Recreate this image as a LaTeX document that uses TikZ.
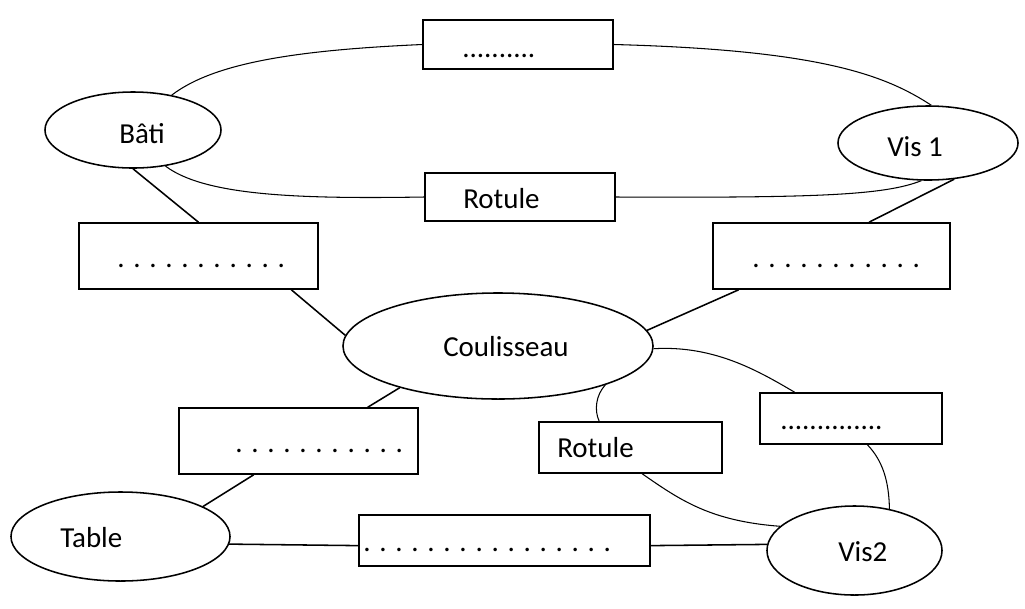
\documentclass[tikz,border=0pt]{standalone}
\usepackage{fontspec}
\setmainfont{Carlito}
\usetikzlibrary{shapes.geometric}
\tikzset{
    piece/.style={draw, ellipse, line width=1.1pt, inner sep=0pt},
    liaison/.style={draw, rectangle, line width=1.1pt, inner sep=0pt},
    txt/.style={anchor=base west, inner sep=0pt, font=\fontsize{20.6pt}{24pt}\selectfont},
    lien/.style={line width=1.1pt},
    courbe/.style={line width=0.75pt}
}

\begin{document}
\begin{tikzpicture}[x=0.025cm, y=-0.025cm]
    \useasboundingbox (0, 0) rectangle (1025, 608);
    % pieces
    \node[piece, minimum width=4.4cm, minimum height=1.9cm](bati) at (133, 130){};
    \node[piece, minimum width=4.5cm, minimum height=1.85cm](vis1) at (928, 143){};
    \node[piece, minimum width=7.75cm, minimum height=2.65cm](coul) at (498, 346){};
    \node[piece, minimum width=5.475cm, minimum height=2.225cm](table) at (120.5, 536.5){};
    \node[piece, minimum width=4.375cm, minimum height=2.225cm](vis2) at (854.5, 550.5){};
    % liaisons
    \node[liaison, minimum width=4.75cm, minimum height=1.225cm](haut) at (518, 44.5){};
    \node[liaison, minimum width=4.75cm, minimum height=1.2cm](rot1) at (520, 197){};
    \node[liaison, minimum width=5.975cm, minimum height=1.65cm](gauche) at (198.5, 256){};
    \node[liaison, minimum width=5.925cm, minimum height=1.65cm](droite) at (831.5, 256){};
    \node[liaison, minimum width=5.975cm, minimum height=1.65cm](bas1) at (298.5, 441){};
    \node[liaison, minimum width=7.275cm, minimum height=1.275cm](bas2) at (504.5, 540.5){};
    \node[liaison, minimum width=4.575cm, minimum height=1.275cm](rot2) at (630.5, 447.5){};
    \node[liaison, minimum width=4.55cm, minimum height=1.275cm](petit) at (851, 418.5){};
    % textes
    \node[txt](bati-t) at (119, 143){Bâti};
    \node[txt](vis1-t) at (887, 156){Vis 1};
    \node[txt](coul-t) at (443, 356){Coulisseau};
    \node[txt](table-t) at (60, 547){Table};
    \node[txt](vis2-t) at (838, 561){Vis2};
    \node[txt](haut-t) at (462, 57){..........};
    \node[txt](rot1-t) at (463, 208){Rotule};
    \node[txt](gauche-t) at (117, 267){. . . . . . . . . . .};
    \node[txt](droite-t) at (752, 267){. . . . . . . . . . .};
    \node[txt](bas1-t) at (235, 452){. . . . . . . . . . .};
    \node[txt](bas2-t) at (363, 551){. . . . . . . . . . . . . . . .};
    \node[txt](rot2-t) at (557, 457){Rotule};
    \node[txt](petit-t) at (780, 429){..............};
    % traits droits
    \draw[lien](bati.270)--(gauche.north);
    \draw[lien](gauche.-20)--(coul.176);
    \draw[lien](vis1.-54)--(droite.42);
    \draw[lien](droite.200)--(coul.6);
    \draw[lien](coul.203)--(bas1.26);
    \draw[lien](bas1.-143)--(table.20);
    \draw[lien](table.-4)--(bas2.182);
    \draw[lien](bas2.-2)--(vis2.176);
    % courbes
    \draw[courbe](bati.42)..controls(215, 62) and (300, 50)..(haut.west);
    \draw[courbe](haut.east)..controls(820, 50) and (885, 75)..(vis1.85);
    \draw[courbe](bati.-48)..controls(205, 196) and (300, 199)..(rot1.west);
    \draw[courbe](rot1.east)..controls(820, 198) and (885, 195)..(vis1.-100);
    \draw[courbe](coul.-1)..controls(715, 345) and (760, 372)..(petit.155);
    \draw[courbe](coul.-20)..controls(596, 395) and (594, 410)..(rot2.140);
    \draw[courbe](rot2.-66)..controls(680, 500) and (710, 521)..(vis2.162);
    \draw[courbe](petit.-58)..controls(882, 460) and (889, 480)..(vis2.50);
\end{tikzpicture}
\end{document}
